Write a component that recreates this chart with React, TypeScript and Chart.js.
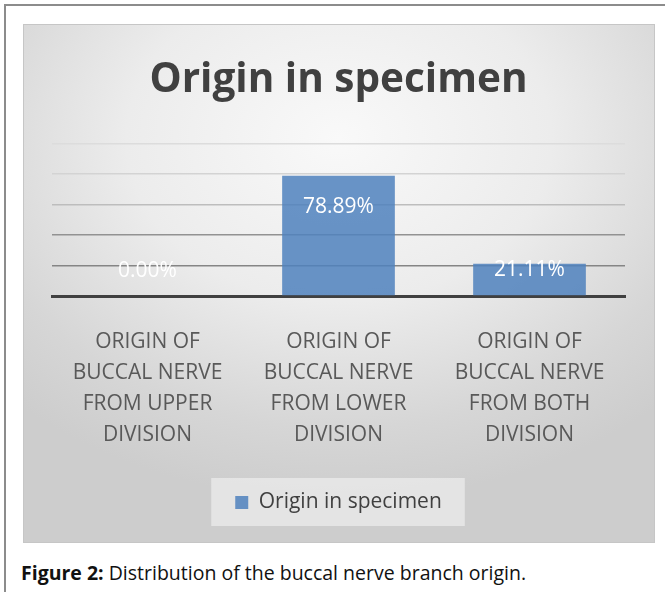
import React, { useEffect, useRef } from "react";
import { Chart, registerables } from "chart.js";

Chart.register(...registerables);

const chartTitle = "Origin in specimen";
const seriesName = "Origin in specimen";
const categories: string[][] = [
  ["ORIGIN OF", "BUCCAL NERVE", "FROM UPPER", "DIVISION"],
  ["ORIGIN OF", "BUCCAL NERVE", "FROM LOWER", "DIVISION"],
  ["ORIGIN OF", "BUCCAL NERVE", "FROM BOTH", "DIVISION"],
];
const values: number[] = [0, 78.89, 21.11];
const yMin = 0;
const yMax = 100;
const yStep = 20;
const captionBold = "Figure 2:";
const captionText = " Distribution of the buccal nerve branch origin.";

const FONT = "'Open Sans', 'DejaVu Sans', sans-serif";

const valueLabels = {
  id: "valueLabels",
  afterDatasetsDraw(chart: any) {
    const ctx = chart.ctx;
    const meta = chart.getDatasetMeta(0);
    ctx.save();
    ctx.font = `21px ${FONT}`;
    ctx.fillStyle = "#ffffff";
    ctx.textAlign = "center";
    ctx.textBaseline = "middle";
    meta.data.forEach((bar: any, i: number) => {
      const { x, y, base } = bar.getProps(["x", "y", "base"], true);
      const ty = Math.min(y + 31, base - 25);
      ctx.fillText(values[i].toFixed(2) + "%", x, ty);
    });
    ctx.restore();
  },
};

const legendBox = {
  id: "legendBox",
  beforeDraw(chart: any) {
    const hb = chart.legend && chart.legend.legendHitBoxes && chart.legend.legendHitBoxes[0];
    if (!hb) return;
    const ctx = chart.ctx;
    ctx.save();
    ctx.fillStyle = "rgba(238,238,238,0.7)";
    ctx.fillRect(hb.left - 24, hb.top - 14, hb.width + 47, hb.height + 27);
    ctx.restore();
  },
};

const gridColors: Record<number, string> = {
  0: "rgba(0,0,0,0)",
  20: "#858585",
  40: "#929292",
  60: "#bdbdbd",
  80: "#d3d3d3",
  100: "#dcdcdc",
};

function ChartPanel() {
  const ref = useRef<HTMLCanvasElement | null>(null);
  useEffect(() => {
    if (!ref.current) return;
    const chart = new Chart(ref.current, {
      type: "bar",
      data: {
        labels: categories,
        datasets: [
          {
            label: seriesName,
            data: values,
            backgroundColor: "rgba(79,129,189,0.85)",
            borderWidth: 0,
            categoryPercentage: 1,
            barPercentage: 0.59,
          },
        ],
      },
      options: {
        responsive: false,
        animation: false,
        layout: { padding: { left: 29, right: 30, top: 0, bottom: 20 } },
        plugins: {
          title: {
            display: true,
            text: chartTitle,
            color: "#404040",
            font: { family: FONT, size: 40.5, weight: "bold", lineHeight: 1.2 },
            padding: { top: 32, bottom: 39 },
          },
          legend: {
            display: true,
            position: "bottom",
            labels: {
              boxWidth: 13,
              boxHeight: 13,
              padding: 10,
              color: "#404040",
              font: { family: FONT, size: 21 },
            },
          },
          tooltip: { enabled: false },
        },
        scales: {
          x: {
            z: 1,
            grid: { display: false, drawTicks: false },
            border: { display: true, color: "#404040", width: 3 },
            ticks: {
              color: "#595959",
              font: { family: FONT, size: 21, lineHeight: "31px" },
              padding: 31,
              maxRotation: 0,
              autoSkip: false,
            },
          },
          y: {
            min: yMin,
            max: yMax,
            grid: {
              drawTicks: false,
              lineWidth: 1.6,
              color: (c: any) => gridColors[c.tick ? c.tick.value : 0] || "#cccccc",
            },
            border: { display: false },
            ticks: { display: false, stepSize: yStep },
          },
        },
      },
      plugins: [valueLabels, legendBox],
    } as any);
    return () => chart.destroy();
  }, []);
  return (
    <canvas
      ref={ref}
      width={632}
      height={519}
      style={{ position: "absolute", left: 23, top: 24, width: 632, height: 519 }}
    />
  );
}

export default function App() {
  return (
    <div>
      <div
        style={{
          position: "absolute",
          left: 4,
          top: 4,
          width: 659,
          height: 586,
          borderTop: "2px solid #8c8c8c",
          borderLeft: "2px solid #8c8c8c",
        }}
      />
      <div
        style={{
          position: "absolute",
          left: 23,
          top: 24,
          width: 632,
          height: 519,
          boxSizing: "border-box",
          border: "1px solid #c6c6c6",
          background:
            "radial-gradient(ellipse 75% 70% at 50% 22%, #f9f9f9 0%, #ececec 45%, #d6d6d6 80%, #cdcdcd 100%)",
        }}
      />
      <ChartPanel />
      <div
        style={{
          position: "absolute",
          left: 21,
          top: 561,
          fontFamily: FONT,
          fontSize: 19.5,
          lineHeight: "24px",
          color: "#111",
          whiteSpace: "nowrap",
        }}
      >
        <b>{captionBold}</b>
        {captionText}
      </div>
    </div>
  );
}
